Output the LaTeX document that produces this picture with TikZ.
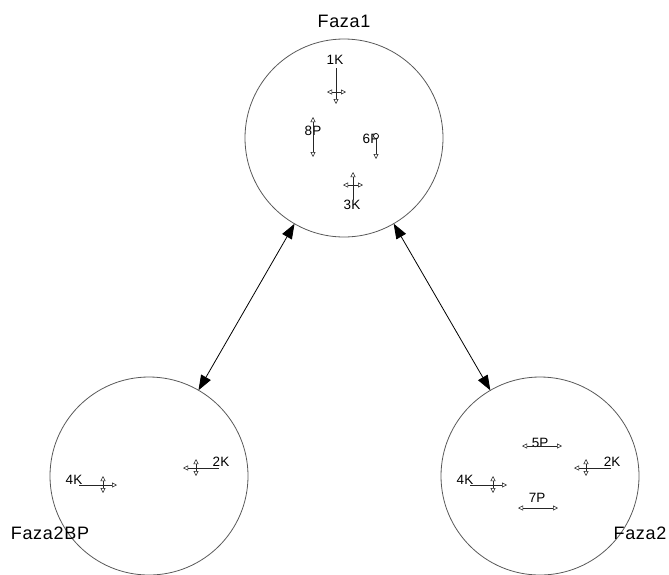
\documentclass[tikz,border=0pt]{standalone}
\usepackage{fontspec}
\setmainfont{Liberation Sans}
\usetikzlibrary{arrows.meta}
\tikzset{
  ring/.style={circle, draw=black!65, line width=0.8pt, minimum size=198pt, inner sep=0pt, outer sep=0pt},
  link/.style={line width=0.8pt, draw=black, {Triangle[length=15pt,width=11pt]}-{Triangle[length=15pt,width=11pt]}},
  title/.style={font=\fontsize{18}{20}\selectfont\addfontfeature{LetterSpace=4}, inner sep=0pt},
  tag/.style={font=\fontsize{13.5}{15}\selectfont, inner sep=0pt},
  vecone/.style={line width=0.7pt, draw=black!85, -{Triangle[open,length=5pt,width=5pt,line width=0.5pt]}},
  vectwo/.style={line width=0.7pt, draw=black!85, {Triangle[open,length=5pt,width=5pt,line width=0.5pt]}-{Triangle[open,length=5pt,width=5pt,line width=0.5pt]}},
}
\begin{document}
\begin{tikzpicture}[x=1pt,y=-1pt]
\useasboundingbox (0,0) rectangle (669,574);
% phases
\node[ring] (f1) at (344,138) {};
\node[ring] (f2bp) at (149,476) {};
\node[ring] (f2) at (540,476) {};
\draw[link] (f1) -- (f2bp);
\draw[link] (f1) -- (f2);
% titles
\node[title] (t1) at (344,21) {Faza1};
\node[title] (t2bp) at (50,533) {Faza2BP};
\node[title] (t2) at (640,533) {Faza2};
% Faza1 contents
\node[tag] (k1) at (335,60) {1K};
\draw[vecone] (336,68) -- (336,104);
\draw[vectwo] (327,92) -- (346,92);
\node[tag] (p8) at (313,131) {8P};
\draw[vectwo] (313,117) -- (313,157);
\node[tag] (p6) at (371,139) {6P};
\draw[vecone] (376,136) -- (376,159);
\draw[line width=0.7pt, draw=black, fill=white] (376,136) circle (2.5);
\node[tag] (k3) at (352,205) {3K};
\draw[vecone] (353,200) -- (353,172);
\draw[vectwo] (343,185) -- (363,185);
% Faza2BP contents
\node[tag] (k4a) at (74,480) {4K};
\draw[vecone] (79,485) -- (117,485);
\draw[vectwo] (103,476) -- (103,493);
\node[tag] (k2a) at (221,462) {2K};
\draw[vecone] (219,468) -- (183,468);
\draw[vectwo] (196,459) -- (196,476);
% Faza2 contents
\node[tag] (p5) at (540,443) {5P};
\draw[vectwo] (522,446) -- (562,446);
\node[tag] (k2b) at (612,462) {2K};
\draw[vecone] (611,468) -- (574,468);
\draw[vectwo] (586,459) -- (586,476);
\node[tag] (k4b) at (465,480) {4K};
\draw[vecone] (470,485) -- (507,485);
\draw[vectwo] (493,476) -- (493,493);
\node[tag] (p7) at (537,498) {7P};
\draw[vectwo] (518,508) -- (558,508);
\end{tikzpicture}
\end{document}
